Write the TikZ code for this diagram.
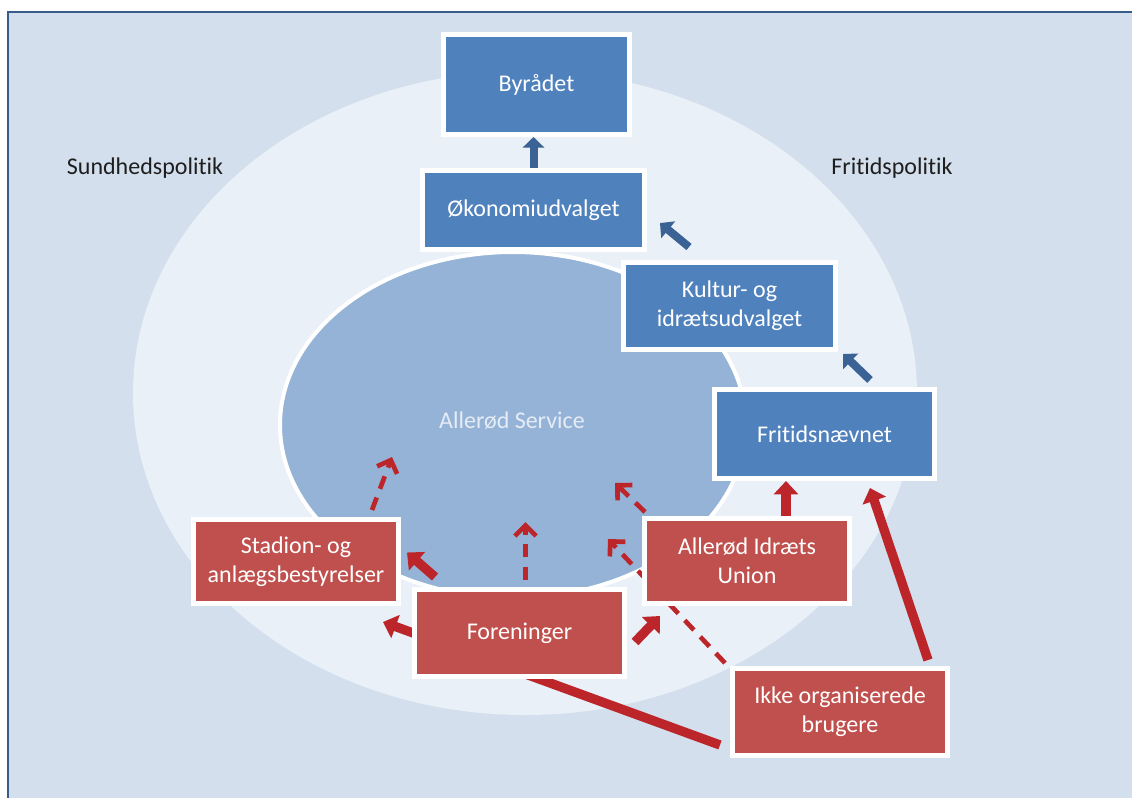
\documentclass[tikz,border=0pt]{standalone}
\usepackage{fontspec}
\setmainfont{Carlito}[Ligatures={NoCommon,NoRequired,NoContextual}]
\usepackage{xcolor}
\usetikzlibrary{arrows.meta,shadows}

\definecolor{framebg}{RGB}{211,223,236}
\definecolor{frameline}{RGB}{56,93,138}
\definecolor{ringfill}{RGB}{234,240,248}
\definecolor{servicefill}{RGB}{149,179,215}
\definecolor{boxblue}{RGB}{79,129,189}
\definecolor{boxred}{RGB}{192,80,77}
\definecolor{flowblue}{RGB}{58,98,148}
\definecolor{flowred}{RGB}{188,38,42}
\definecolor{servicetext}{RGB}{229,236,245}
\definecolor{policytext}{RGB}{30,30,30}

\pgfdeclarelayer{bg}
\pgfdeclarelayer{behind}
\pgfsetlayers{bg,behind,main}

\tikzset{
  unit/.style={draw=white, line width=3.5pt, text=white, align=center, inner sep=2pt,
    font=\fontsize{18}{22}\selectfont,
    drop shadow={shadow xshift=1.2pt, shadow yshift=-1.2pt, opacity=0.25, fill=black}},
  blueunit/.style={unit, fill=boxblue},
  redunit/.style={unit, fill=boxred},
  blueflow/.style={draw=flowblue, line width=6pt, -{Triangle[width=16pt,length=8pt]}},
  redflow/.style={draw=flowred, line width=7pt, -{Triangle[width=18pt,length=10pt]}},
  reddash/.style={draw=flowred, line width=3.5pt, dash pattern=on 10pt off 7pt,
    -{Straight Barb[width=16pt,length=8pt]}},
}

\begin{document}
\begin{tikzpicture}[x=0.75pt,y=0.75pt,yscale=-1,xscale=1]
\useasboundingbox (0,0) rectangle (1132,797);

\begin{pgfonlayer}{bg}
%Shape: Rectangle (frame)
\draw [draw=frameline, fill=framebg, line width=2.2pt] (8,12) rectangle (1150,815);
%Shape: Ellipse (policy area)
\fill [ringfill] (525,393) ellipse [x radius=392, y radius=322];
%Shape: Ellipse (Allerød Service)
\draw [draw=white, fill=servicefill, line width=3pt] (513,425) ellipse [x radius=233, y radius=173];
\end{pgfonlayer}

% Text Node
\node (sundhed) at (145,168) [text=policytext, font=\fontsize{18}{22}\selectfont] {Sundhedspolitik};
% Text Node
\node (fritidspol) at (892,168) [text=policytext, font=\fontsize{18}{22}\selectfont] {Fritidspolitik};
% Text Node
\node (service) at (512,421) [text=servicetext, font=\fontsize{18}{22}\selectfont] {Allerød Service};

% blue units
\node (byraadet) at (536.5,84.5) [blueunit, minimum width=139.75pt, minimum height=75.25pt] {Byrådet};
\node (okonomi) at (533.5,210) [blueunit, minimum width=166.75pt, minimum height=59.5pt] {Økonomiudvalget};
\node (kultur) at (729.5,306) [blueunit, minimum width=159.25pt, minimum height=65.5pt] {Kultur- og\\idrætsudvalget};
\node (fritid) at (824.5,434) [blueunit, minimum width=165.25pt, minimum height=67pt] {Fritidsnævnet};

% red units
\node (stadion) at (296,561.5) [redunit, minimum width=154pt, minimum height=63.25pt] {Stadion- og\\anlægsbestyrelser};
\node (foren) at (519.5,633) [redunit, minimum width=157.75pt, minimum height=65.5pt] {Foreninger};
\node (aiu) at (747,561) [redunit, minimum width=154pt, minimum height=64pt] {Allerød Idræts\\Union};
\node (ikke) at (840,712) [redunit, minimum width=161.5pt, minimum height=65.5pt] {Ikke organiserede\\brugere};

% arrows running behind the units
\begin{pgfonlayer}{behind}
\draw [redflow] ([shift={(-10,33)}]ikke.west) -- ([shift={(-18,16)}]stadion.south east);
\draw [reddash] ([shift={(-5,-3)}]ikke.north west) -- ([shift={(-34,-22)}]aiu.west);
\end{pgfonlayer}

% blue flow
\draw [blueflow] (okonomi.north) -- (okonomi.north |- byraadet.south);
\draw [blueflow] ([shift={(68,-13)}]kultur.north west) -- ([shift={(13,-29)}]okonomi.south east);
\draw [blueflow] ([shift={(-67,-7)}]fritid.north east) -- ([shift={(5,2)}]kultur.south east);

% red flow
\draw [redflow] ([shift={(23,-10)}]foren.north west) -- ([shift={(6,-9)}]stadion.east);
\draw [redflow] ([shift={(8,9)}]foren.east) -- ([shift={(18,10)}]aiu.south west);
\draw [redflow] ([shift={(39,0)}]aiu.north) -- ([shift={(39,0)}]aiu.north |- fritid.south);
\draw [redflow] ([shift={(-22,-6)}]ikke.north east) -- ([shift={(-67,7)}]fritid.south east);

% dashed flow into Allerød Service
\draw [reddash] ([shift={(-29,-7)}]stadion.north east) -- ([shift={(-9,-60)}]stadion.north east);
\draw [reddash] ([shift={(6,-7)}]foren.north) -- ([shift={(6,-65)}]foren.north);
\draw [reddash] ([shift={(3,-4)}]aiu.north west) -- ([shift={(-27,-33)}]aiu.north west);

\end{tikzpicture}
\end{document}
